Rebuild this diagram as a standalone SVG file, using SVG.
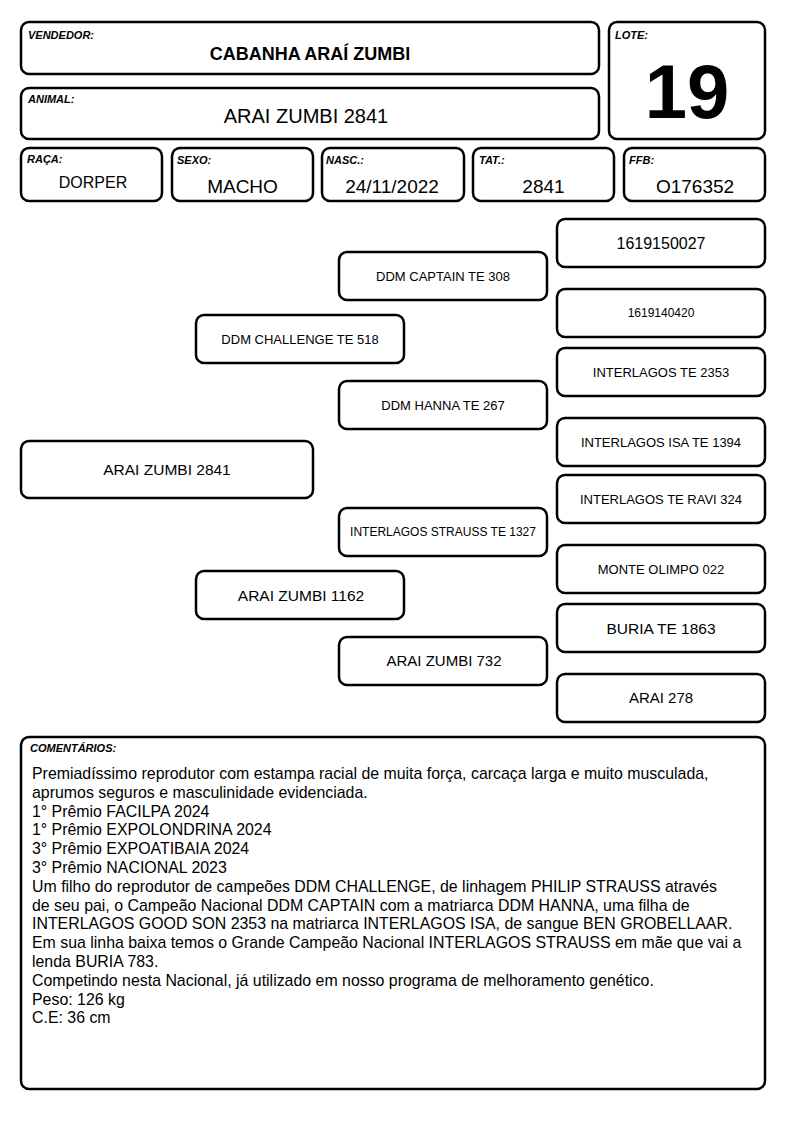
<svg xmlns="http://www.w3.org/2000/svg" width="794" height="1123" viewBox="0 0 794 1123">
<style>
.b{fill:#fff;stroke:#000;stroke-width:2.5}
.lb{font-family:"Liberation Sans",Arial,sans-serif;font-weight:bold;font-style:italic;font-size:11px;fill:#000}
.t{font-family:"Liberation Sans",Arial,sans-serif;fill:#000;text-anchor:middle}
.c{font-family:"Liberation Sans",Arial,sans-serif;fill:#000;font-size:15.9px}
</style>
<rect width="794" height="1123" fill="#fff"/>
<g id="vendedor"><rect class="b" x="21" y="22" width="578" height="52" rx="8"/><text class="lb" x="28" y="39">VENDEDOR:</text><text class="t" x="310" y="60" font-size="18" font-weight="bold">CABANHA ARAÍ ZUMBI</text></g>
<g id="animal"><rect class="b" x="21" y="88" width="578" height="51" rx="8"/><text class="lb" x="28" y="103">ANIMAL:</text><text class="t" x="306" y="123" font-size="20">ARAI ZUMBI 2841</text></g>
<g id="lote"><rect class="b" x="609" y="22" width="156" height="117" rx="8"/><text class="lb" x="615" y="39">LOTE:</text><text class="t" x="687" y="118" font-size="76" font-weight="bold">19</text></g>
<g id="raca"><rect class="b" x="21" y="148" width="141" height="53" rx="8"/><text class="lb" x="27" y="163">RAÇA:</text><text class="t" x="93" y="188" font-size="16">DORPER</text></g>
<g id="sexo"><rect class="b" x="172" y="148" width="141" height="53" rx="8"/><text class="lb" x="177" y="164">SEXO:</text><text class="t" x="242.5" y="193" font-size="19">MACHO</text></g>
<g id="nasc"><rect class="b" x="322" y="148" width="142" height="53" rx="8"/><text class="lb" x="326" y="164">NASC.:</text><text class="t" x="392" y="193" font-size="19">24/11/2022</text></g>
<g id="tat"><rect class="b" x="473" y="148" width="141" height="53" rx="8"/><text class="lb" x="479" y="164">TAT.:</text><text class="t" x="543.5" y="193" font-size="19">2841</text></g>
<g id="ffb"><rect class="b" x="624" y="148" width="141" height="53" rx="8"/><text class="lb" x="629" y="164">FFB:</text><text class="t" x="695" y="193" font-size="19">O176352</text></g>
<g id="n1619150027"><rect class="b" x="557" y="219" width="208" height="48" rx="8"/><text class="t" x="661" y="248.5" font-size="16">1619150027</text></g>
<g id="ddm-captain"><rect class="b" x="339" y="252" width="208" height="48" rx="8"/><text class="t" x="443" y="280.5" font-size="13">DDM CAPTAIN TE 308</text></g>
<g id="n1619140420"><rect class="b" x="557" y="289" width="208" height="48" rx="8"/><text class="t" x="661" y="317" font-size="12">1619140420</text></g>
<g id="ddm-challenge"><rect class="b" x="196" y="315" width="208" height="48" rx="8"/><text class="t" x="300" y="343.5" font-size="13">DDM CHALLENGE TE 518</text></g>
<g id="interlagos-2353"><rect class="b" x="557" y="348" width="208" height="48" rx="8"/><text class="t" x="661" y="376.5" font-size="13">INTERLAGOS TE 2353</text></g>
<g id="ddm-hanna"><rect class="b" x="339" y="381" width="208" height="48" rx="8"/><text class="t" x="443" y="409.5" font-size="13">DDM HANNA TE 267</text></g>
<g id="interlagos-isa"><rect class="b" x="557" y="418" width="208" height="48" rx="8"/><text class="t" x="661" y="446.5" font-size="13">INTERLAGOS ISA TE 1394</text></g>
<g id="arai-zumbi-2841"><rect class="b" x="21" y="441" width="292" height="57" rx="8"/><text class="t" x="167" y="475" font-size="15.5">ARAI ZUMBI 2841</text></g>
<g id="interlagos-ravi"><rect class="b" x="557" y="475" width="208" height="48" rx="8"/><text class="t" x="661" y="503.5" font-size="13">INTERLAGOS TE RAVI 324</text></g>
<g id="interlagos-strauss"><rect class="b" x="339" y="508" width="208" height="48" rx="8"/><text class="t" x="443" y="536" font-size="12">INTERLAGOS STRAUSS TE 1327</text></g>
<g id="monte-olimpo"><rect class="b" x="557" y="545" width="208" height="48" rx="8"/><text class="t" x="661" y="573.5" font-size="13">MONTE OLIMPO 022</text></g>
<g id="arai-zumbi-1162"><rect class="b" x="196" y="571" width="208" height="48" rx="8"/><text class="t" x="301" y="600.5" font-size="15.5">ARAI ZUMBI 1162</text></g>
<g id="buria"><rect class="b" x="557" y="604" width="208" height="48" rx="8"/><text class="t" x="661" y="633.5" font-size="15.5">BURIA TE 1863</text></g>
<g id="arai-zumbi-732"><rect class="b" x="339" y="637" width="208" height="48" rx="8"/><text class="t" x="444" y="666" font-size="15">ARAI ZUMBI 732</text></g>
<g id="arai-278"><rect class="b" x="557" y="674" width="208" height="48" rx="8"/><text class="t" x="661" y="703" font-size="15">ARAI 278</text></g>
<g id="comentarios"><rect class="b" x="21" y="737" width="744" height="352" rx="8"/><text class="lb" x="30" y="752">COMENTÁRIOS:</text>
<text class="c"><tspan x="32" y="779">Premiadíssimo reprodutor com estampa racial de muita força, carcaça larga e muito musculada,</tspan><tspan x="32" dy="18.8">aprumos seguros e masculinidade evidenciada.</tspan><tspan x="32" dy="18.8">1° Prêmio FACILPA 2024</tspan><tspan x="32" dy="18.8">1° Prêmio EXPOLONDRINA 2024</tspan><tspan x="32" dy="18.8">3° Prêmio EXPOATIBAIA 2024</tspan><tspan x="32" dy="18.8">3° Prêmio NACIONAL 2023</tspan><tspan x="32" dy="18.8">Um filho do reprodutor de campeões DDM CHALLENGE, de linhagem PHILIP STRAUSS através</tspan><tspan x="32" dy="18.8">de seu pai, o Campeão Nacional DDM CAPTAIN com a matriarca DDM HANNA, uma filha de</tspan><tspan x="32" dy="18.8">INTERLAGOS GOOD SON 2353 na matriarca INTERLAGOS ISA, de sangue BEN GROBELLAAR.</tspan><tspan x="32" dy="18.8">Em sua linha baixa temos o Grande Campeão Nacional INTERLAGOS STRAUSS em mãe que vai a</tspan><tspan x="32" dy="18.8">lenda BURIA 783.</tspan><tspan x="32" dy="18.8">Competindo nesta Nacional, já utilizado em nosso programa de melhoramento genético.</tspan><tspan x="32" dy="18.8">Peso: 126 kg</tspan><tspan x="32" dy="18.8">C.E: 36 cm</tspan></text></g>
</svg>
